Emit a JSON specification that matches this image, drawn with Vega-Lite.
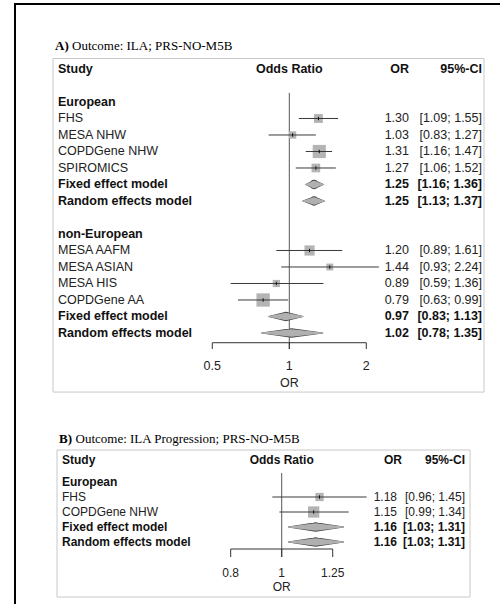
{
  "$schema": "https://vega.github.io/schema/vega-lite/v6.json",
  "width": 491,
  "height": 606,
  "autosize": {"type": "none"},
  "padding": {"left": 15, "top": 4, "right": -6, "bottom": -6},
  "background": "white",
  "config": {
    "view": {"stroke": "#000000", "strokeWidth": 2},
    "axis": {"disable": true},
    "legend": {"disable": true}
  },
  "datasets": {
    "a": [
      {"label": "European", "type": "group", "row": 1},
      {"label": "FHS", "type": "study", "row": 2, "or": 1.30, "lo": 1.09, "hi": 1.55, "weight": 20.6, "ci": "[1.09; 1.55]"},
      {"label": "MESA NHW", "type": "study", "row": 3, "or": 1.03, "lo": 0.83, "hi": 1.27, "weight": 14.1, "ci": "[0.83; 1.27]"},
      {"label": "COPDGene NHW", "type": "study", "row": 4, "or": 1.31, "lo": 1.16, "hi": 1.47, "weight": 45.6, "ci": "[1.16; 1.47]"},
      {"label": "SPIROMICS", "type": "study", "row": 5, "or": 1.27, "lo": 1.06, "hi": 1.52, "weight": 19.7, "ci": "[1.06; 1.52]"},
      {"label": "Fixed effect model", "type": "summary", "row": 6, "or": 1.25, "lo": 1.16, "hi": 1.36, "ci": "[1.16; 1.36]"},
      {"label": "Random effects model", "type": "summary", "row": 7, "or": 1.25, "lo": 1.13, "hi": 1.37, "ci": "[1.13; 1.37]"},
      {"label": "non-European", "type": "group", "row": 9},
      {"label": "MESA AAFM", "type": "study", "row": 10, "or": 1.20, "lo": 0.89, "hi": 1.61, "weight": 27.2, "ci": "[0.89; 1.61]"},
      {"label": "MESA ASIAN", "type": "study", "row": 11, "or": 1.44, "lo": 0.93, "hi": 2.24, "weight": 12.4, "ci": "[0.93; 2.24]"},
      {"label": "MESA HIS", "type": "study", "row": 12, "or": 0.89, "lo": 0.59, "hi": 1.36, "weight": 13.7, "ci": "[0.59; 1.36]"},
      {"label": "COPDGene AA", "type": "study", "row": 13, "or": 0.79, "lo": 0.63, "hi": 0.99, "weight": 46.8, "ci": "[0.63; 0.99]"},
      {"label": "Fixed effect model", "type": "summary", "row": 14, "or": 0.97, "lo": 0.83, "hi": 1.13, "ci": "[0.83; 1.13]"},
      {"label": "Random effects model", "type": "summary", "row": 15, "or": 1.02, "lo": 0.78, "hi": 1.35, "ci": "[0.78; 1.35]"}
    ],
    "b": [
      {"label": "European", "type": "group", "row": 1},
      {"label": "FHS", "type": "study", "row": 2, "or": 1.18, "lo": 0.96, "hi": 1.45, "weight": 35.0, "ci": "[0.96; 1.45]"},
      {"label": "COPDGene NHW", "type": "study", "row": 3, "or": 1.15, "lo": 0.99, "hi": 1.34, "weight": 65.0, "ci": "[0.99; 1.34]"},
      {"label": "Fixed effect model", "type": "summary", "row": 4, "or": 1.16, "lo": 1.03, "hi": 1.31, "ci": "[1.03; 1.31]"},
      {"label": "Random effects model", "type": "summary", "row": 5, "or": 1.16, "lo": 1.03, "hi": 1.31, "ci": "[1.03; 1.31]"}
    ],
    "ticksA": [{"v": 0.5}, {"v": 1}, {"v": 2}],
    "ticksB": [{"v": 0.8}, {"v": 1}, {"v": 1.25}]
  },
  "layer": [
    {
      "layer": [
        {"data": {"values": [{}]}, "mark": {"type": "rect", "filled": false, "color": "#c8c8c8", "strokeWidth": 1},
         "encoding": {"x": {"value": 38}, "x2": {"value": 469},
           "y": {"datum": -1.636, "type": "quantitative", "scale": {"domain": [-4.9394, 31.788], "reverse": true, "nice": false, "zero": false}, "axis": null},
           "y2": {"datum": 18.58}}},
        {"data": {"values": [{}]}, "mark": {"type": "rule", "color": "#555555", "strokeWidth": 1},
         "encoding": {"x": {"datum": 1, "type": "quantitative", "scale": {"type": "log", "domain": [0.08467, 7.032], "nice": false}, "axis": null},
           "y": {"datum": 0.45, "type": "quantitative", "axis": null}, "y2": {"datum": 15.97}}},
        {"data": {"name": "a"}, "transform": [{"filter": "datum.type === 'study'"}],
         "mark": {"type": "point", "shape": "square", "filled": true, "color": "#b4b4b4", "opacity": 1},
         "encoding": {"x": {"field": "or", "type": "quantitative", "axis": null}, "y": {"field": "row", "type": "quantitative", "axis": null},
           "size": {"field": "weight", "type": "quantitative", "scale": {"domain": [0, 100], "range": [0, 380]}, "legend": null}}},
        {"data": {"name": "a"}, "transform": [{"filter": "datum.type === 'study'"}],
         "mark": {"type": "rule", "color": "#3a3a3a", "strokeWidth": 1},
         "encoding": {"x": {"field": "lo", "type": "quantitative", "axis": null}, "x2": {"field": "hi"}, "y": {"field": "row", "type": "quantitative", "axis": null}}},
        {"data": {"name": "a"}, "transform": [{"filter": "datum.type === 'study'"}],
         "mark": {"type": "point", "shape": "M0,-1V1", "filled": false, "stroke": "#111111", "strokeWidth": 1, "size": 12, "opacity": 1},
         "encoding": {"x": {"field": "or", "type": "quantitative", "axis": null}, "y": {"field": "row", "type": "quantitative", "axis": null}}},
        {"data": {"name": "a"}, "transform": [{"filter": "datum.type === 'summary'"}, {"fold": ["lo", "or", "hi"], "as": ["k", "v"]}],
         "mark": {"type": "trail", "color": "#444444"},
         "encoding": {"x": {"field": "v", "type": "quantitative", "axis": null}, "y": {"field": "row", "type": "quantitative", "axis": null},
           "detail": {"field": "row", "type": "nominal"},
           "size": {"field": "k", "type": "ordinal", "scale": {"type": "ordinal", "domain": ["lo", "or", "hi"], "range": [1.2, 9.5, 1.2]}, "legend": null}}},
        {"data": {"name": "a"}, "transform": [{"filter": "datum.type === 'summary'"}, {"fold": ["lo", "or", "hi"], "as": ["k", "v"]}],
         "mark": {"type": "trail", "color": "#b0b0b0"},
         "encoding": {"x": {"field": "v", "type": "quantitative", "axis": null}, "y": {"field": "row", "type": "quantitative", "axis": null},
           "detail": {"field": "row", "type": "nominal"},
           "size": {"field": "k", "type": "ordinal", "scale": {"type": "ordinal", "domain": ["lo", "or", "hi"], "range": [0, 7.5, 0]}, "legend": null}}},
        {"data": {"values": [{}]}, "mark": {"type": "rule", "color": "#333333", "strokeWidth": 1},
         "encoding": {"x": {"datum": 0.5, "type": "quantitative", "axis": null}, "x2": {"datum": 2},
           "y": {"datum": 15.59, "type": "quantitative", "axis": null}}},
        {"data": {"name": "ticksA"}, "mark": {"type": "rule", "color": "#333333", "strokeWidth": 1},
         "encoding": {"x": {"field": "v", "type": "quantitative", "axis": null},
           "y": {"datum": 15.59, "type": "quantitative", "axis": null}, "y2": {"datum": 15.97}}},
        {"data": {"name": "ticksA"}, "mark": {"type": "text", "align": "center", "baseline": "middle", "font": "Liberation Sans", "fontSize": 12.5, "color": "#222222"},
         "encoding": {"x": {"field": "v", "type": "quantitative", "axis": null},
           "y": {"datum": 17.0, "type": "quantitative", "axis": null}, "text": {"field": "v", "type": "quantitative", "format": "~g"}}},
        {"data": {"values": [{"t": "OR"}]}, "mark": {"type": "text", "align": "center", "baseline": "middle", "font": "Liberation Sans", "fontSize": 12.5, "color": "#222222"},
         "encoding": {"x": {"datum": 1, "type": "quantitative", "axis": null},
           "y": {"datum": 18.03, "type": "quantitative", "axis": null}, "text": {"field": "t"}}},
        {"data": {"name": "a"}, "transform": [{"filter": "datum.type === 'study'"}],
         "mark": {"type": "text", "align": "left", "baseline": "middle", "font": "Liberation Sans", "fontSize": 12.5, "color": "#222222"},
         "encoding": {"x": {"value": 43}, "y": {"field": "row", "type": "quantitative", "axis": null}, "text": {"field": "label"}}},
        {"data": {"name": "a"}, "transform": [{"filter": "datum.type !== 'study'"}],
         "mark": {"type": "text", "align": "left", "baseline": "middle", "font": "Liberation Sans", "fontSize": 12.5, "fontWeight": "bold", "color": "#111111"},
         "encoding": {"x": {"value": 43}, "y": {"field": "row", "type": "quantitative", "axis": null}, "text": {"field": "label"}}},
        {"data": {"name": "a"}, "transform": [{"filter": "datum.type === 'study'"}],
         "mark": {"type": "text", "align": "right", "baseline": "middle", "font": "Liberation Sans", "fontSize": 12.5, "color": "#222222"},
         "encoding": {"x": {"value": 394}, "y": {"field": "row", "type": "quantitative", "axis": null}, "text": {"field": "or", "type": "quantitative", "format": ".2f"}}},
        {"data": {"name": "a"}, "transform": [{"filter": "datum.type === 'summary'"}],
         "mark": {"type": "text", "align": "right", "baseline": "middle", "font": "Liberation Sans", "fontSize": 12.5, "fontWeight": "bold", "color": "#111111"},
         "encoding": {"x": {"value": 394}, "y": {"field": "row", "type": "quantitative", "axis": null}, "text": {"field": "or", "type": "quantitative", "format": ".2f"}}},
        {"data": {"name": "a"}, "transform": [{"filter": "datum.type === 'study'"}],
         "mark": {"type": "text", "align": "right", "baseline": "middle", "font": "Liberation Sans", "fontSize": 12.5, "color": "#222222"},
         "encoding": {"x": {"value": 467}, "y": {"field": "row", "type": "quantitative", "axis": null}, "text": {"field": "ci"}}},
        {"data": {"name": "a"}, "transform": [{"filter": "datum.type === 'summary'"}],
         "mark": {"type": "text", "align": "right", "baseline": "middle", "font": "Liberation Sans", "fontSize": 12.5, "fontWeight": "bold", "color": "#111111"},
         "encoding": {"x": {"value": 467}, "y": {"field": "row", "type": "quantitative", "axis": null}, "text": {"field": "ci"}}},
        {"data": {"values": [{"t": "Study"}]}, "mark": {"type": "text", "align": "left", "baseline": "middle", "font": "Liberation Sans", "fontSize": 12.5, "fontWeight": "bold", "color": "#111111"},
         "encoding": {"x": {"value": 43}, "y": {"datum": -1.0, "type": "quantitative", "axis": null}, "text": {"field": "t"}}},
        {"data": {"values": [{"t": "Odds Ratio"}]}, "mark": {"type": "text", "align": "center", "baseline": "middle", "font": "Liberation Sans", "fontSize": 12.5, "fontWeight": "bold", "color": "#111111"},
         "encoding": {"x": {"datum": 1, "type": "quantitative", "axis": null}, "y": {"datum": -1.0, "type": "quantitative", "axis": null}, "text": {"field": "t"}}},
        {"data": {"values": [{"t": "OR"}]}, "mark": {"type": "text", "align": "right", "baseline": "middle", "font": "Liberation Sans", "fontSize": 12.5, "fontWeight": "bold", "color": "#111111"},
         "encoding": {"x": {"value": 394}, "y": {"datum": -1.0, "type": "quantitative", "axis": null}, "text": {"field": "t"}}},
        {"data": {"values": [{"t": "95%-CI"}]}, "mark": {"type": "text", "align": "right", "baseline": "middle", "font": "Liberation Sans", "fontSize": 12.5, "fontWeight": "bold", "color": "#111111"},
         "encoding": {"x": {"value": 467}, "y": {"datum": -1.0, "type": "quantitative", "axis": null}, "text": {"field": "t"}}},
        {"data": {"values": [{"t": "A)"}]}, "mark": {"type": "text", "align": "left", "baseline": "middle", "font": "Liberation Serif", "fontSize": 13, "fontWeight": "bold", "color": "#000000"},
         "encoding": {"x": {"value": 40}, "y": {"datum": -2.4, "type": "quantitative", "axis": null}, "text": {"field": "t"}}},
        {"data": {"values": [{"t": "Outcome: ILA; PRS-NO-M5B"}]}, "mark": {"type": "text", "align": "left", "baseline": "middle", "font": "Liberation Serif", "fontSize": 13, "color": "#000000"},
         "encoding": {"x": {"value": 57}, "y": {"datum": -2.4, "type": "quantitative", "axis": null}, "text": {"field": "t"}}}
      ],
      "resolve": {"scale": {"size": "independent"}}
    },
    {
      "layer": [
        {"data": {"values": [{}]}, "mark": {"type": "rect", "filled": false, "color": "#c8c8c8", "strokeWidth": 1},
         "encoding": {"x": {"value": 42}, "x2": {"value": 455},
           "y": {"datum": -1.133, "type": "quantitative", "scale": {"domain": [-30.8667, 9.5333], "reverse": true, "nice": false, "zero": false}, "axis": null},
           "y2": {"datum": 8.667}}},
        {"data": {"values": [{}]}, "mark": {"type": "rule", "color": "#555555", "strokeWidth": 1},
         "encoding": {"x": {"datum": 1, "type": "quantitative", "scale": {"type": "log", "domain": [0.31138, 2.6677], "nice": false}, "axis": null},
           "y": {"datum": 0.4, "type": "quantitative", "axis": null}, "y2": {"datum": 6.0}}},
        {"data": {"name": "b"}, "transform": [{"filter": "datum.type === 'study'"}],
         "mark": {"type": "point", "shape": "square", "filled": true, "color": "#b4b4b4", "opacity": 1},
         "encoding": {"x": {"field": "or", "type": "quantitative", "axis": null}, "y": {"field": "row", "type": "quantitative", "axis": null},
           "size": {"field": "weight", "type": "quantitative", "scale": {"domain": [0, 100], "range": [0, 196]}, "legend": null}}},
        {"data": {"name": "b"}, "transform": [{"filter": "datum.type === 'study'"}],
         "mark": {"type": "rule", "color": "#3a3a3a", "strokeWidth": 1},
         "encoding": {"x": {"field": "lo", "type": "quantitative", "axis": null}, "x2": {"field": "hi"}, "y": {"field": "row", "type": "quantitative", "axis": null}}},
        {"data": {"name": "b"}, "transform": [{"filter": "datum.type === 'study'"}],
         "mark": {"type": "point", "shape": "M0,-1V1", "filled": false, "stroke": "#111111", "strokeWidth": 1, "size": 12, "opacity": 1},
         "encoding": {"x": {"field": "or", "type": "quantitative", "axis": null}, "y": {"field": "row", "type": "quantitative", "axis": null}}},
        {"data": {"name": "b"}, "transform": [{"filter": "datum.type === 'summary'"}, {"fold": ["lo", "or", "hi"], "as": ["k", "v"]}],
         "mark": {"type": "trail", "color": "#444444"},
         "encoding": {"x": {"field": "v", "type": "quantitative", "axis": null}, "y": {"field": "row", "type": "quantitative", "axis": null},
           "detail": {"field": "row", "type": "nominal"},
           "size": {"field": "k", "type": "ordinal", "scale": {"type": "ordinal", "domain": ["lo", "or", "hi"], "range": [1.2, 9.5, 1.2]}, "legend": null}}},
        {"data": {"name": "b"}, "transform": [{"filter": "datum.type === 'summary'"}, {"fold": ["lo", "or", "hi"], "as": ["k", "v"]}],
         "mark": {"type": "trail", "color": "#b0b0b0"},
         "encoding": {"x": {"field": "v", "type": "quantitative", "axis": null}, "y": {"field": "row", "type": "quantitative", "axis": null},
           "detail": {"field": "row", "type": "nominal"},
           "size": {"field": "k", "type": "ordinal", "scale": {"type": "ordinal", "domain": ["lo", "or", "hi"], "range": [0, 7.5, 0]}, "legend": null}}},
        {"data": {"values": [{}]}, "mark": {"type": "rule", "color": "#333333", "strokeWidth": 1},
         "encoding": {"x": {"datum": 0.8, "type": "quantitative", "axis": null}, "x2": {"datum": 1.25},
           "y": {"datum": 5.467, "type": "quantitative", "axis": null}}},
        {"data": {"name": "ticksB"}, "mark": {"type": "rule", "color": "#333333", "strokeWidth": 1},
         "encoding": {"x": {"field": "v", "type": "quantitative", "axis": null},
           "y": {"datum": 5.467, "type": "quantitative", "axis": null}, "y2": {"datum": 6.0}}},
        {"data": {"name": "ticksB"}, "mark": {"type": "text", "align": "center", "baseline": "middle", "font": "Liberation Sans", "fontSize": 12, "color": "#222222"},
         "encoding": {"x": {"field": "v", "type": "quantitative", "axis": null},
           "y": {"datum": 7.07, "type": "quantitative", "axis": null}, "text": {"field": "v", "type": "quantitative", "format": "~g"}}},
        {"data": {"values": [{"t": "OR"}]}, "mark": {"type": "text", "align": "center", "baseline": "middle", "font": "Liberation Sans", "fontSize": 12, "color": "#222222"},
         "encoding": {"x": {"datum": 1, "type": "quantitative", "axis": null},
           "y": {"datum": 8.0, "type": "quantitative", "axis": null}, "text": {"field": "t"}}},
        {"data": {"name": "b"}, "transform": [{"filter": "datum.type === 'study'"}],
         "mark": {"type": "text", "align": "left", "baseline": "middle", "font": "Liberation Sans", "fontSize": 12, "color": "#222222"},
         "encoding": {"x": {"value": 47}, "y": {"field": "row", "type": "quantitative", "axis": null}, "text": {"field": "label"}}},
        {"data": {"name": "b"}, "transform": [{"filter": "datum.type !== 'study'"}],
         "mark": {"type": "text", "align": "left", "baseline": "middle", "font": "Liberation Sans", "fontSize": 12, "fontWeight": "bold", "color": "#111111"},
         "encoding": {"x": {"value": 47}, "y": {"field": "row", "type": "quantitative", "axis": null}, "text": {"field": "label"}}},
        {"data": {"name": "b"}, "transform": [{"filter": "datum.type === 'study'"}],
         "mark": {"type": "text", "align": "right", "baseline": "middle", "font": "Liberation Sans", "fontSize": 12, "color": "#222222"},
         "encoding": {"x": {"value": 382}, "y": {"field": "row", "type": "quantitative", "axis": null}, "text": {"field": "or", "type": "quantitative", "format": ".2f"}}},
        {"data": {"name": "b"}, "transform": [{"filter": "datum.type === 'summary'"}],
         "mark": {"type": "text", "align": "right", "baseline": "middle", "font": "Liberation Sans", "fontSize": 12, "fontWeight": "bold", "color": "#111111"},
         "encoding": {"x": {"value": 382}, "y": {"field": "row", "type": "quantitative", "axis": null}, "text": {"field": "or", "type": "quantitative", "format": ".2f"}}},
        {"data": {"name": "b"}, "transform": [{"filter": "datum.type === 'study'"}],
         "mark": {"type": "text", "align": "right", "baseline": "middle", "font": "Liberation Sans", "fontSize": 12, "color": "#222222"},
         "encoding": {"x": {"value": 450}, "y": {"field": "row", "type": "quantitative", "axis": null}, "text": {"field": "ci"}}},
        {"data": {"name": "b"}, "transform": [{"filter": "datum.type === 'summary'"}],
         "mark": {"type": "text", "align": "right", "baseline": "middle", "font": "Liberation Sans", "fontSize": 12, "fontWeight": "bold", "color": "#111111"},
         "encoding": {"x": {"value": 450}, "y": {"field": "row", "type": "quantitative", "axis": null}, "text": {"field": "ci"}}},
        {"data": {"values": [{"t": "Study"}]}, "mark": {"type": "text", "align": "left", "baseline": "middle", "font": "Liberation Sans", "fontSize": 12, "fontWeight": "bold", "color": "#111111"},
         "encoding": {"x": {"value": 47}, "y": {"datum": -0.467, "type": "quantitative", "axis": null}, "text": {"field": "t"}}},
        {"data": {"values": [{"t": "Odds Ratio"}]}, "mark": {"type": "text", "align": "center", "baseline": "middle", "font": "Liberation Sans", "fontSize": 12, "fontWeight": "bold", "color": "#111111"},
         "encoding": {"x": {"datum": 1, "type": "quantitative", "axis": null}, "y": {"datum": -0.467, "type": "quantitative", "axis": null}, "text": {"field": "t"}}},
        {"data": {"values": [{"t": "OR"}]}, "mark": {"type": "text", "align": "right", "baseline": "middle", "font": "Liberation Sans", "fontSize": 12, "fontWeight": "bold", "color": "#111111"},
         "encoding": {"x": {"value": 387}, "y": {"datum": -0.467, "type": "quantitative", "axis": null}, "text": {"field": "t"}}},
        {"data": {"values": [{"t": "95%-CI"}]}, "mark": {"type": "text", "align": "right", "baseline": "middle", "font": "Liberation Sans", "fontSize": 12, "fontWeight": "bold", "color": "#111111"},
         "encoding": {"x": {"value": 450}, "y": {"datum": -0.467, "type": "quantitative", "axis": null}, "text": {"field": "t"}}},
        {"data": {"values": [{"t": "B)"}]}, "mark": {"type": "text", "align": "left", "baseline": "middle", "font": "Liberation Serif", "fontSize": 13, "fontWeight": "bold", "color": "#000000"},
         "encoding": {"x": {"value": 44}, "y": {"datum": -1.867, "type": "quantitative", "axis": null}, "text": {"field": "t"}}},
        {"data": {"values": [{"t": "Outcome: ILA Progression; PRS-NO-M5B"}]}, "mark": {"type": "text", "align": "left", "baseline": "middle", "font": "Liberation Serif", "fontSize": 13, "color": "#000000"},
         "encoding": {"x": {"value": 60.5}, "y": {"datum": -1.867, "type": "quantitative", "axis": null}, "text": {"field": "t"}}}
      ],
      "resolve": {"scale": {"size": "independent"}}
    }
  ],
  "resolve": {"scale": {"x": "independent", "y": "independent", "size": "independent"}}
}
